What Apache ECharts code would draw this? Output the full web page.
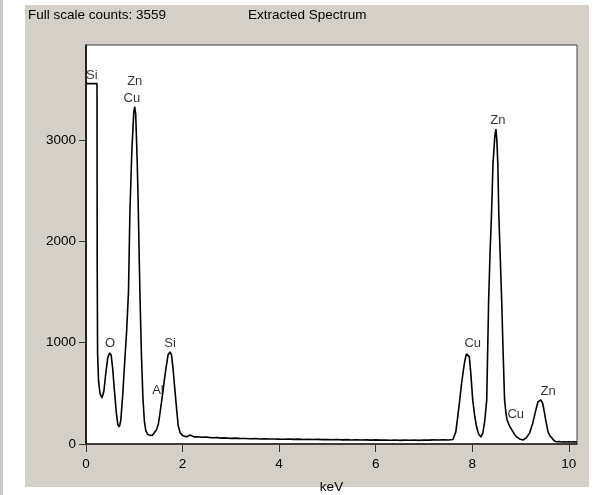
<!DOCTYPE html>
<html>
<head>
<meta charset="utf-8">
<script src="https://cdn.jsdelivr.net/npm/echarts@6/dist/echarts.min.js"></script>
<style>
html,body{margin:0;padding:0;background:#fff;}
#chart{width:598px;height:495px;}
</style>
</head>
<body>
<div id="chart"></div>
<script>
// Spectrum (keV, counts)
var energy = [0,0.228,0.232,0.24,0.26,0.29,0.33,0.37,0.41,0.45,0.49,0.52,0.55,0.59,0.63,0.66,0.69,0.72,0.76,0.80,0.84,0.88,0.91,0.95,0.99,1.01,1.03,1.06,1.08,1.10,1.12,1.15,1.18,1.21,1.24,1.28,1.33,1.38,1.42,1.46,1.50,1.54,1.58,1.62,1.66,1.70,1.74,1.77,1.80,1.84,1.88,1.91,1.95,2.00,2.05,2.10,2.15,2.20,2.25,2.30,2.40,2.50,2.60,2.70,2.80,2.90,3.00,3.10,3.20,3.30,3.40,3.50,3.60,3.70,3.80,3.90,4.00,4.10,4.20,4.30,4.40,4.50,4.60,4.70,4.80,4.90,5.00,5.10,5.20,5.30,5.40,5.50,5.60,5.70,5.80,5.90,6.00,6.10,6.20,6.30,6.40,6.50,6.60,6.70,6.80,6.90,7.00,7.10,7.20,7.30,7.40,7.50,7.60,7.66,7.70,7.74,7.78,7.82,7.85,7.88,7.91,7.94,7.97,8.01,8.05,8.09,8.13,8.18,8.22,8.26,8.30,8.34,8.37,8.40,8.43,8.47,8.49,8.51,8.53,8.55,8.58,8.61,8.64,8.67,8.70,8.72,8.77,8.82,8.87,8.92,8.98,9.05,9.12,9.19,9.25,9.30,9.36,9.42,9.46,9.50,9.52,9.57,9.61,9.65,9.70,9.75,9.80,9.85,9.90,9.95,10.00,10.05,10.10,10.17];
var counts = [3559,3559,1800,900,620,500,455,520,700,850,900,880,760,520,300,190,170,230,480,800,1100,1500,2300,2900,3280,3330,3250,2800,2400,1900,1420,850,450,220,130,95,85,88,105,140,200,330,470,620,760,880,910,880,760,540,330,180,110,85,75,72,88,78,70,72,66,68,62,64,58,60,56,58,54,55,52,54,50,52,49,50,48,47,50,46,48,45,47,44,46,43,45,42,44,41,43,40,42,39,41,38,41,38,40,37,39,36,38,37,39,36,40,38,41,39,42,40,45,120,270,430,600,740,830,890,905,860,700,435,280,170,100,70,110,230,435,1420,1900,2280,2770,3050,3110,3000,2770,2280,1850,1420,900,435,300,240,180,140,100,70,50,40,60,110,200,300,415,435,400,300,240,120,80,60,30,22,24,20,23,20,22,20,22,20];

// Peak annotations
var peakNames = ['Si','Zn','Cu','O','Si','Al','Cu','Zn','Cu','Zn'];
var peakKeV = [0.12,1.01,0.95,0.50,1.74,1.49,8.01,8.53,8.90,9.57];
var peakCounts = [3643,3583,3416,997,997,533,997,3198,296,523];

// Axis ticks
var xTicks = [0,2,4,6,8,10];
var yTicks = [0,1000,2000,3000];

var fullScale = 3559;
var titleText = 'Extracted Spectrum';
var xName = 'keV';

var lineData = energy.map(function(e,i){return [e,counts[i]];});
var labelData = peakNames.map(function(n,i){return {name:n,value:[peakKeV[i],peakCounts[i]]};});

var FONT = '"Liberation Sans", Arial, sans-serif';
var FS = 13.5;
var chart = echarts.init(document.getElementById('chart'), null, {renderer:'canvas'});
chart.setOption({
  backgroundColor:'#ffffff',
  animation:false,
  graphic:[
    {type:'rect', z:-10, silent:true, shape:{x:0,y:0,width:3,height:495}, style:{fill:'#c9c9c9'}},
    {type:'rect', z:-10, silent:true, shape:{x:25,y:5,width:564,height:482}, style:{fill:'#d4d0c8'}},
    {type:'text', left:28, top:8, style:{text:'Full scale counts: '+fullScale, font:FS+'px '+FONT, fill:'#000'}},
    {type:'text', left:248, top:8, style:{text:titleText, font:FS+'px '+FONT, fill:'#000'}}
  ],
  grid:{left:86, right:21, top:45, bottom:51, containLabel:false, outerBoundsMode:'none', show:true, backgroundColor:'#ffffff', borderColor:'#404040', borderWidth:1},
  xAxis:{
    type:'value', min:0, max:10.17,
    axisLine:{show:true, onZero:false, lineStyle:{color:'#222', width:1.5}},
    axisTick:{show:true, length:8, customValues:xTicks, lineStyle:{color:'#333'}},
    axisLabel:{customValues:xTicks, color:'#000', fontSize:FS, fontFamily:FONT, margin:13, formatter:function(v){return String(v);}},
    splitLine:{show:false},
    name:xName, nameLocation:'middle', nameGap:36,
    nameTextStyle:{color:'#000', fontSize:FS, fontFamily:FONT}
  },
  yAxis:{
    type:'value', min:0, max:3940,
    axisLine:{show:true, lineStyle:{color:'#000', width:1.5}},
    axisTick:{show:true, length:7, customValues:yTicks, lineStyle:{color:'#333'}},
    axisLabel:{customValues:yTicks, color:'#000', fontSize:FS, fontFamily:FONT, margin:10, formatter:function(v){return String(v);}},
    splitLine:{show:false}
  },
  series:[
    {type:'line', data:lineData, showSymbol:false, symbol:'none', lineStyle:{color:'#000', width:1.6}, z:3},
    {type:'scatter', data:labelData, symbolSize:0, z:4,
      label:{show:true, position:'inside', formatter:'{b}', color:'#000', fontSize:13, fontFamily:FONT}}
  ]
});
</script>
</body>
</html>
